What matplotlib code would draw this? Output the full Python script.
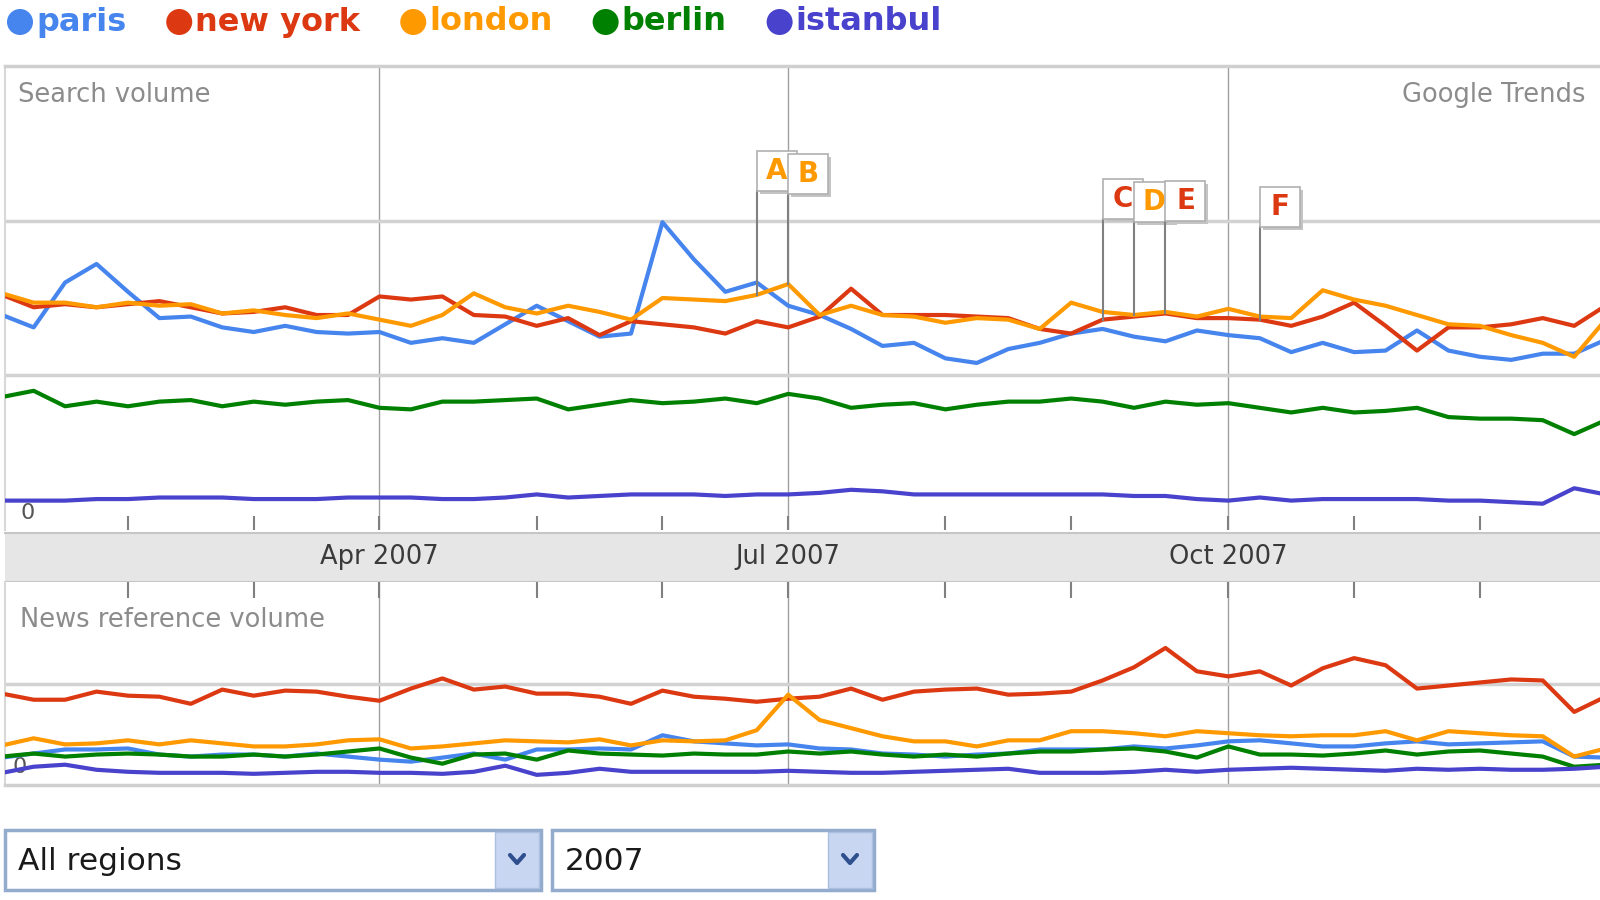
import matplotlib.pyplot as plt
import numpy as np
from matplotlib.patches import Rectangle, Circle
from matplotlib.transforms import blended_transform_factory

W, H = 1600, 900

names = ['paris', 'new york', 'london', 'berlin', 'istanbul']
colors = ['#4684ee', '#dc3912', '#ff9900', '#008000', '#4942cc']
weeks = np.arange(52)

# search volume (top chart), one value per week of 2007
paris_search = [1.39, 1.31, 1.60, 1.72, 1.54, 1.37, 1.38, 1.31, 1.28, 1.32, 1.28, 1.27, 1.28,
                1.21, 1.24, 1.21, 1.33, 1.45, 1.35, 1.25, 1.27, 1.99, 1.75, 1.54, 1.60, 1.45,
                1.39, 1.30, 1.19, 1.21, 1.11, 1.08, 1.17, 1.21, 1.27, 1.30, 1.25, 1.22, 1.29,
                1.26, 1.24, 1.15, 1.21, 1.15, 1.16, 1.29, 1.16, 1.12, 1.10, 1.14, 1.14, 1.23]
newyork_search = [1.52, 1.44, 1.46, 1.44, 1.46, 1.48, 1.44, 1.40, 1.41, 1.44, 1.39, 1.39, 1.51,
                  1.49, 1.51, 1.39, 1.38, 1.32, 1.37, 1.26, 1.35, 1.33, 1.31, 1.27, 1.35, 1.31,
                  1.38, 1.56, 1.39, 1.39, 1.39, 1.38, 1.37, 1.30, 1.27, 1.36, 1.38, 1.40, 1.37,
                  1.37, 1.36, 1.32, 1.38, 1.47, 1.32, 1.16, 1.31, 1.31, 1.33, 1.37, 1.32, 1.45]
london_search = [1.53, 1.47, 1.47, 1.44, 1.47, 1.45, 1.46, 1.40, 1.42, 1.39, 1.37, 1.40, 1.36,
                 1.32, 1.39, 1.53, 1.44, 1.40, 1.45, 1.41, 1.36, 1.50, 1.49, 1.48, 1.52, 1.59,
                 1.39, 1.45, 1.39, 1.38, 1.34, 1.37, 1.36, 1.30, 1.47, 1.41, 1.39, 1.41, 1.38,
                 1.43, 1.38, 1.37, 1.55, 1.49, 1.45, 1.39, 1.33, 1.32, 1.26, 1.21, 1.12, 1.36]
berlin_search = [0.86, 0.90, 0.80, 0.83, 0.80, 0.83, 0.84, 0.80, 0.83, 0.81, 0.83, 0.84, 0.79,
                 0.78, 0.83, 0.83, 0.84, 0.85, 0.78, 0.81, 0.84, 0.82, 0.83, 0.85, 0.82, 0.88,
                 0.85, 0.79, 0.81, 0.82, 0.78, 0.81, 0.83, 0.83, 0.85, 0.83, 0.79, 0.83, 0.81,
                 0.82, 0.79, 0.76, 0.79, 0.76, 0.77, 0.79, 0.73, 0.72, 0.72, 0.71, 0.62, 0.71]
istanbul_search = [0.19, 0.19, 0.19, 0.20, 0.20, 0.21, 0.21, 0.21, 0.20, 0.20, 0.20, 0.21, 0.21,
                   0.21, 0.20, 0.20, 0.21, 0.23, 0.21, 0.22, 0.23, 0.23, 0.23, 0.22, 0.23, 0.23,
                   0.24, 0.26, 0.25, 0.23, 0.23, 0.23, 0.23, 0.23, 0.23, 0.23, 0.22, 0.22, 0.20,
                   0.19, 0.21, 0.19, 0.20, 0.20, 0.20, 0.20, 0.19, 0.19, 0.18, 0.17, 0.27, 0.23]

# news reference volume (bottom chart)
paris_news = [0.27, 0.31, 0.35, 0.35, 0.36, 0.30, 0.28, 0.30, 0.30, 0.28, 0.31, 0.28, 0.25,
              0.23, 0.27, 0.31, 0.25, 0.35, 0.35, 0.36, 0.35, 0.49, 0.43, 0.41, 0.39, 0.40,
              0.36, 0.35, 0.31, 0.30, 0.28, 0.30, 0.31, 0.35, 0.35, 0.35, 0.38, 0.36, 0.39,
              0.43, 0.44, 0.41, 0.38, 0.38, 0.41, 0.43, 0.40, 0.41, 0.42, 0.43, 0.28, 0.27]
newyork_news = [0.90, 0.84, 0.84, 0.92, 0.88, 0.87, 0.80, 0.94, 0.88, 0.93, 0.92, 0.87, 0.83,
                0.95, 1.05, 0.94, 0.97, 0.90, 0.90, 0.87, 0.80, 0.93, 0.87, 0.85, 0.82, 0.85,
                0.87, 0.95, 0.84, 0.92, 0.94, 0.95, 0.89, 0.90, 0.92, 1.03, 1.16, 1.35, 1.12,
                1.07, 1.12, 0.98, 1.15, 1.25, 1.18, 0.95, 0.98, 1.01, 1.04, 1.03, 0.72, 0.87]
london_news = [0.39, 0.46, 0.40, 0.41, 0.44, 0.40, 0.44, 0.41, 0.38, 0.38, 0.40, 0.44, 0.45,
               0.36, 0.38, 0.41, 0.44, 0.43, 0.42, 0.45, 0.39, 0.44, 0.43, 0.44, 0.54, 0.89,
               0.64, 0.56, 0.48, 0.43, 0.43, 0.38, 0.44, 0.44, 0.53, 0.53, 0.51, 0.48, 0.53,
               0.51, 0.49, 0.48, 0.49, 0.49, 0.53, 0.44, 0.53, 0.51, 0.49, 0.48, 0.28, 0.36]
berlin_news = [0.28, 0.31, 0.28, 0.30, 0.31, 0.30, 0.28, 0.28, 0.30, 0.28, 0.30, 0.33, 0.36,
               0.27, 0.21, 0.30, 0.31, 0.25, 0.34, 0.31, 0.30, 0.29, 0.31, 0.30, 0.30, 0.33,
               0.31, 0.33, 0.30, 0.28, 0.30, 0.28, 0.31, 0.33, 0.33, 0.35, 0.36, 0.33, 0.27,
               0.38, 0.30, 0.30, 0.29, 0.31, 0.34, 0.30, 0.33, 0.34, 0.31, 0.28, 0.18, 0.20]
istanbul_news = [0.12, 0.18, 0.20, 0.15, 0.13, 0.12, 0.12, 0.12, 0.11, 0.12, 0.13, 0.13, 0.12,
                 0.12, 0.11, 0.13, 0.19, 0.10, 0.12, 0.16, 0.13, 0.13, 0.13, 0.13, 0.13, 0.14,
                 0.13, 0.12, 0.12, 0.13, 0.14, 0.15, 0.16, 0.12, 0.12, 0.12, 0.13, 0.15, 0.13,
                 0.15, 0.16, 0.17, 0.16, 0.15, 0.14, 0.16, 0.15, 0.16, 0.15, 0.15, 0.16, 0.18]

search = [paris_search, newyork_search, london_search, berlin_search, istanbul_search]
news = [paris_news, newyork_news, london_news, berlin_news, istanbul_news]

month_ticks = [4, 8, 12, 17, 21, 25, 30, 34, 39, 43, 47]
quarter_weeks = [12, 25, 39]
quarter_labels = ['Apr 2007', 'Jul 2007', 'Oct 2007']

flag_letters = ['A', 'B', 'C', 'D', 'E', 'F']
flag_weeks = [24, 25, 35, 36, 37, 40]
flag_series = [2, 2, 1, 2, 1, 1]

# pixel layout of the screenshot
WEEK_PX = 31.44
WEEK0_PX = 2.2
XLIM = ((5 - WEEK0_PX) / WEEK_PX, (W - WEEK0_PX) / WEEK_PX)
GRAY_TXT = '#8c8c8c'

plt.rcParams['font.family'] = 'DejaVu Sans'


def px_axes(fig, x0, y0, x1, y1):
    return fig.add_axes([x0 / W, 1 - y1 / H, (x1 - x0) / W, (y1 - y0) / H])


def style_chart(ax, ymax):
    ax.set_xlim(*XLIM)
    ax.set_ylim(0, ymax)
    ax.set_yticks([])
    ax.set_xticks(month_ticks)
    for s in ax.spines.values():
        s.set_visible(False)
    ax.spines['left'].set_visible(True)
    ax.spines['left'].set_color('#d8d8d8')
    ax.spines['left'].set_linewidth(1.5)
    for w in quarter_weeks:
        ax.axvline(w, color='#a0a0a0', lw=1.0, zorder=1)
    for y in range(1, int(ymax)):
        ax.axhline(y, color='#d2d2d2', lw=2.5, zorder=1)


def draw_series(ax, series):
    for values, color in zip(series, colors):
        ax.plot(weeks, values, color=color, lw=3, zorder=3)


fig = plt.figure(figsize=(16, 9), dpi=100)

# overlay in screen pixels for the legend and the drop-downs
over = fig.add_axes([0, 0, 1, 1])
over.set_xlim(0, W)
over.set_ylim(H, 0)
over.axis('off')

# ---- top chart: search volume
ax_top = px_axes(fig, 5, 66, W, 530)
style_chart(ax_top, 3.0)
ax_top.spines['top'].set_visible(True)
ax_top.spines['top'].set_color('#cfcfcf')
ax_top.spines['top'].set_linewidth(2.5)
ax_top.tick_params(axis='x', direction='in', length=10, width=1.5, color='#808080',
                   labelbottom=False)
draw_series(ax_top, search)
ax_top.text(0.008, 0.9375, 'Search volume', transform=ax_top.transAxes,
            fontsize=18.5, color=GRAY_TXT, va='center', ha='left')
ax_top.text(0.9906, 0.9375, 'Google Trends', transform=ax_top.transAxes,
            fontsize=18.5, color=GRAY_TXT, va='center', ha='right')
ax_top.text(0.014, 0.037, '0', transform=ax_top.transAxes,
            fontsize=16, color='#555555', va='center', ha='center', zorder=2)

# flags with their poles
flag_heights = [2.19, 2.17, 2.01, 1.99, 2.00, 1.96]
box_w, box_h = 40 / WEEK_PX, 40 / 154.5
for i, letter in enumerate(flag_letters):
    w = flag_weeks[i]
    base = search[flag_series[i]][w]
    lvl = flag_heights[i]
    z = 5 + i
    ax_top.plot([w, w], [base, lvl], color='#808080', lw=1.5, zorder=z)
    ax_top.add_patch(Rectangle((w + 3 / WEEK_PX, lvl - 3 / 154.5), box_w, box_h,
                               facecolor='#c4c4c4', edgecolor='none', zorder=z))
    ax_top.add_patch(Rectangle((w, lvl), box_w, box_h, facecolor='white',
                               edgecolor='#b0b0b0', lw=1.2, zorder=z))
    ax_top.text(w + box_w * 0.5, lvl + box_h * 0.5, letter, color=colors[flag_series[i]],
                fontsize=20, fontweight='bold', ha='center', va='center', zorder=z)

# ---- date band
ax_band = px_axes(fig, 5, 533, W, 582)
ax_band.set_facecolor('#e6e6e6')
ax_band.set_xlim(*XLIM)
ax_band.set_xticks([])
ax_band.set_yticks([])
for side in ['left', 'right']:
    ax_band.spines[side].set_visible(False)
for side in ['top', 'bottom']:
    ax_band.spines[side].set_color('#c6c6c6')
    ax_band.spines[side].set_linewidth(1.5)
trans = blended_transform_factory(ax_band.transData, ax_band.transAxes)
for w, lab in zip(quarter_weeks, quarter_labels):
    ax_band.text(w, 0.5, lab, transform=trans, ha='center', va='center',
                 fontsize=18.5, color='#3a3a3a')

# ---- bottom chart: news reference volume
ax_bot = px_axes(fig, 5, 582, W, 785)
style_chart(ax_bot, 2.0)
ax_bot.spines['bottom'].set_visible(True)
ax_bot.spines['bottom'].set_color('#cfcfcf')
ax_bot.spines['bottom'].set_linewidth(2.5)
ax_bot.xaxis.set_ticks_position('top')
ax_bot.tick_params(axis='x', direction='in', length=11.5, width=1.5, color='#808080',
                   labeltop=False, labelbottom=False)
ax_bot.text(0.009, 0.09, '0', transform=ax_bot.transAxes,
            fontsize=16, color='#555555', va='center', ha='center', zorder=2)
draw_series(ax_bot, news)
ax_bot.text(0.0094, 0.813, 'News reference volume', transform=ax_bot.transAxes,
            fontsize=18.5, color=GRAY_TXT, va='center', ha='left')

# ---- legend across the top
renderer = fig.canvas.get_renderer()
x = 20
for name, color in zip(names, colors):
    over.add_patch(Circle((x, 22), 13, facecolor=color, edgecolor='none'))
    t = over.text(x + 16, 22, name, color=color, fontsize=23, fontweight='bold',
                  ha='left', va='center')
    x = x + 16 + t.get_window_extent(renderer).width + 53

# ---- drop-down boxes
boxes = [(5, 541, 'All regions'), (552, 874, '2007')]
for x0, x1, label in boxes:
    over.add_patch(Rectangle((x0, 830), x1 - x0, 60, facecolor='white',
                             edgecolor='#93abcc', lw=2.5))
    over.add_patch(Rectangle((x1 - 46, 832), 44, 56, facecolor='#c8d6f2',
                             edgecolor='#aabfe2', lw=1))
    cx = x1 - 24
    over.plot([cx - 7, cx, cx + 7], [855, 863, 855], color='#2f4f8f', lw=3,
              solid_capstyle='round')
    over.text(x0 + 13, 861, label, fontsize=22.5, color='#1a1a1a', ha='left', va='center')

fig.savefig('out.png', dpi=100)
